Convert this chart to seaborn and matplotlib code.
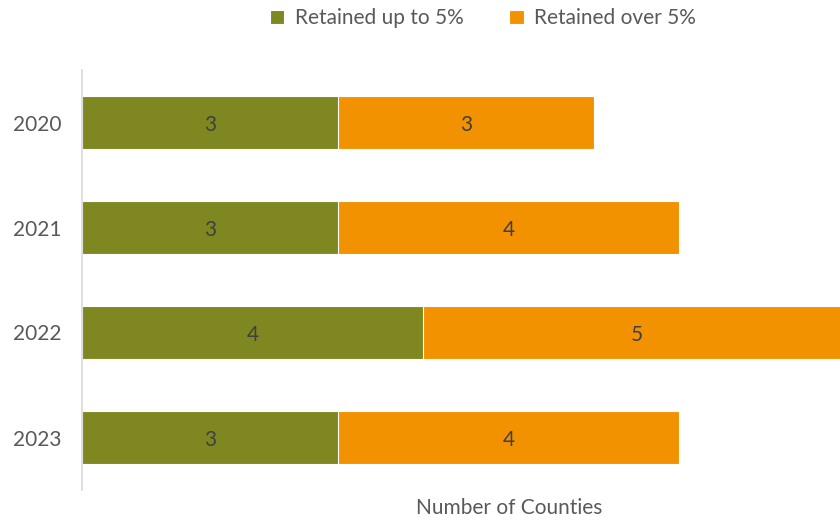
import pandas as pd
import matplotlib.pyplot as plt
import seaborn as sns

# chart data
years = ['2020', '2021', '2022', '2023']
upTo5 = [3, 3, 4, 3]
over5 = [3, 4, 5, 4]
seriesNames = ['Retained up to 5%', 'Retained over 5%']
seriesColors = ['#7F8820', '#F39200']

sns.set_style("white")
plt.rcParams['font.family'] = ['Lato', 'DejaVu Sans']

df = pd.DataFrame({'Year': years, seriesNames[0]: upTo5, seriesNames[1]: over5})
df['Total'] = df[seriesNames[0]] + df[seriesNames[1]]

fig = plt.figure(figsize=(8.4, 5.21), dpi=100)
ax = fig.add_axes([82 / 840, 31 / 521, 758 / 840, 420 / 521])

# stacked: draw totals first, then first series on top
sns.barplot(data=df, y='Year', x='Total', color=seriesColors[1], orient='h', saturation=1,
            width=0.5, edgecolor='white', linewidth=0.8, ax=ax, label=seriesNames[1])
sns.barplot(data=df, y='Year', x=seriesNames[0], color=seriesColors[0], orient='h', saturation=1,
            width=0.5, edgecolor='white', linewidth=0.8, ax=ax, label=seriesNames[0])

textColor = '#404040'
for i in range(len(years)):
    ax.text(upTo5[i] / 2, i + 0.02, str(upTo5[i]), ha='center', va='center', fontsize=15, color=textColor)
    ax.text(upTo5[i] + over5[i] / 2, i + 0.02, str(over5[i]), ha='center', va='center', fontsize=15, color=textColor)

ax.set_xlim(0, 758 / 85.33)
ax.set_ylim(3.5, -0.5)
ax.set_xticks([])
ax.set_ylabel('')
ax.set_xlabel('Number of Counties', fontsize=15, color='#595959')
ax.xaxis.set_label_coords((509 - 82) / 758, -0.02)
ax.tick_params(axis='y', labelsize=15, labelcolor='#595959', length=0, pad=15)
for side in ['top', 'right', 'bottom']:
    ax.spines[side].set_visible(False)
ax.spines['left'].set_color('#D9D9D9')
ax.spines['left'].set_linewidth(1.2)

handles, labels = ax.get_legend_handles_labels()
order = [labels.index(n) for n in seriesNames]
if ax.get_legend() is not None:
    ax.get_legend().remove()
fig.legend([handles[k] for k in order], [labels[k] for k in order],
           loc='upper center', bbox_to_anchor=(0.575, 1.02), ncol=2, frameon=False,
           fontsize=15, handlelength=0.7, handleheight=0.7, handletextpad=0.5,
           columnspacing=2.2, labelcolor='#595959')

fig.savefig('out.png', dpi=100)
